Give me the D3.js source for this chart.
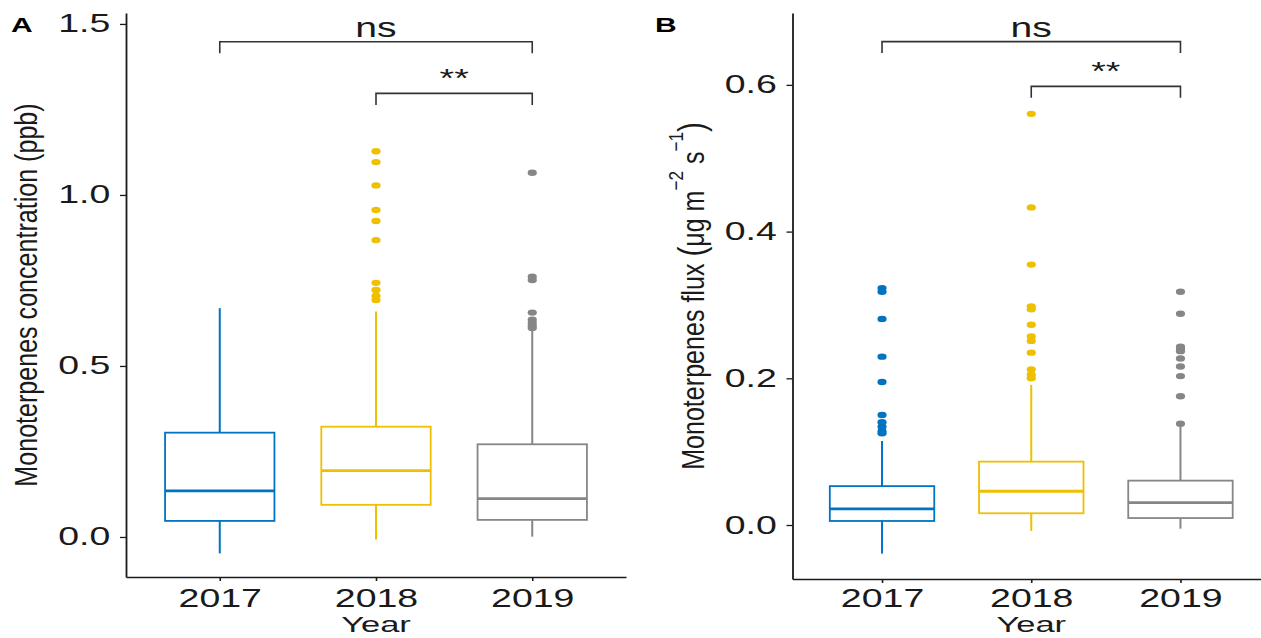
<!DOCTYPE html>
<html>
<head>
<meta charset="utf-8">
<title>Monoterpenes by year</title>
<script src="https://d3js.org/d3.v7.min.js"></script>
<style>
html, body {
  margin: 0;
  padding: 0;
  background: #ffffff;
}
svg {
  display: block;
  font-family: "Liberation Sans", Arial, sans-serif;
}
.axis path, .axis line {
  stroke: #1a1a1a;
}
.axis text {
  fill: #1a1a1a;
}
</style>
</head>
<body>
<svg id="chart" width="1261" height="638"></svg>
<script>
// categories
var years = ["2017", "2018", "2019"];
var colors = ["#0073C2", "#EFC000", "#868686"];

// panel A: monoterpenes concentration (ppb)
var concLow = [-0.048, -0.007, 0.001];
var concQ1 = [0.047, 0.094, 0.050];
var concMedian = [0.135, 0.194, 0.112];
var concQ3 = [0.305, 0.3225, 0.271];
var concHigh = [0.669, 0.659, 0.605];
var concOutliers = [
  [],
  [1.128, 1.096, 1.028, 0.956, 0.924, 0.868, 0.743, 0.722, 0.705, 0.693],
  [1.065, 0.761, 0.751, 0.656, 0.635, 0.626, 0.617, 0.611]
];
var concTicks = [0, 0.5, 1.0, 1.5];
var concBracketY = [1.448, 1.297];

// panel B: monoterpenes flux (ug m-2 s-1)
var fluxLow = [-0.039, -0.008, -0.005];
var fluxQ1 = [0.0055, 0.016, 0.0095];
var fluxMedian = [0.022, 0.046, 0.0305];
var fluxQ3 = [0.053, 0.0864, 0.0605];
var fluxHigh = [0.1145, 0.191, 0.136];
var fluxOutliers = [
  [0.323, 0.318, 0.281, 0.2295, 0.195, 0.150, 0.140, 0.134, 0.128, 0.125],
  [0.5605, 0.433, 0.355, 0.298, 0.294, 0.273, 0.257, 0.251, 0.235, 0.212, 0.205, 0.200],
  [0.318, 0.288, 0.243, 0.240, 0.237, 0.227, 0.216, 0.203, 0.1755, 0.138]
];
var fluxTicks = [0, 0.2, 0.4, 0.6];
var fluxBracketY = [0.659, 0.598];

// significance comparisons (same in both panels)
var bracketPairs = [["2017", "2019"], ["2018", "2019"]];
var bracketLabels = ["ns", "**"];

// the figure is stretched sideways, so every text gets widened
var SX = 1.5;

var svg = d3.select("#chart");

function drawPanel(cfg) {
  var g = svg.append("g");

  var x = d3.scalePoint()
            .domain(years)
            .range([cfg.left, cfg.right])
            .padding(0.6);
  var y = d3.scaleLinear()
            .domain(cfg.yDomain)
            .range([cfg.bottom, cfg.top]);
  var bw = x.step() * 0.7;

  // axes
  var yAxis = g.append("g")
    .attr("class", "axis")
    .attr("transform", "translate(" + cfg.left + ",0)")
    .call(d3.axisLeft(y).tickValues(cfg.ticks).tickFormat(d3.format(".1f"))
            .tickSize(6).tickSizeOuter(0).tickPadding(4.5));
  yAxis.select(".domain").attr("stroke-width", 1.8);
  yAxis.selectAll(".tick line").attr("stroke-width", 1.3);
  yAxis.selectAll(".tick text")
    .attr("font-size", 25)
    .attr("font-family", "Liberation Sans, Arial, sans-serif")
    .attr("transform", "scale(" + SX + ",1)");

  // keep the year labels on the same baseline in both panels
  var xAxis = g.append("g")
    .attr("class", "axis")
    .attr("transform", "translate(0," + cfg.bottom + ")")
    .call(d3.axisBottom(x).tickSize(4).tickSizeOuter(0).tickPadding(8 - (cfg.bottom - 577)));
  xAxis.select(".domain").attr("stroke-width", 1.3);
  xAxis.selectAll(".tick line").attr("stroke-width", 1.6);
  xAxis.selectAll(".tick text")
    .attr("font-size", 25)
    .attr("font-family", "Liberation Sans, Arial, sans-serif")
    .attr("transform", "scale(" + SX + ",1)");

  // boxplots
  var boxes = g.selectAll(".box")
    .data(years)
    .enter().append("g")
      .attr("class", "box");

  boxes.append("line")
    .attr("x1", function(d) { return x(d); })
    .attr("x2", function(d) { return x(d); })
    .attr("y1", function(d, i) { return y(cfg.q3[i]); })
    .attr("y2", function(d, i) { return y(cfg.high[i]); })
    .attr("stroke", function(d, i) { return colors[i]; })
    .attr("stroke-width", 2);

  boxes.append("line")
    .attr("x1", function(d) { return x(d); })
    .attr("x2", function(d) { return x(d); })
    .attr("y1", function(d, i) { return y(cfg.q1[i]); })
    .attr("y2", function(d, i) { return y(cfg.low[i]); })
    .attr("stroke", function(d, i) { return colors[i]; })
    .attr("stroke-width", 2);

  boxes.append("rect")
    .attr("x", function(d) { return x(d) - bw / 2; })
    .attr("width", bw)
    .attr("y", function(d, i) { return y(cfg.q3[i]); })
    .attr("height", function(d, i) { return y(cfg.q1[i]) - y(cfg.q3[i]); })
    .attr("fill", "#ffffff")
    .attr("stroke", function(d, i) { return colors[i]; })
    .attr("stroke-width", 1.8);

  boxes.append("line")
    .attr("x1", function(d) { return x(d) - bw / 2; })
    .attr("x2", function(d) { return x(d) + bw / 2; })
    .attr("y1", function(d, i) { return y(cfg.median[i]); })
    .attr("y2", function(d, i) { return y(cfg.median[i]); })
    .attr("stroke", function(d, i) { return colors[i]; })
    .attr("stroke-width", 2.8);

  // outliers
  var pts = [];
  years.forEach(function(yr, i) {
    cfg.outliers[i].forEach(function(v) { pts.push({ i: i, year: yr, v: v }); });
  });
  g.selectAll(".outlier")
    .data(pts)
    .enter().append("ellipse")
      .attr("class", "outlier")
      .attr("cx", function(d) { return x(d.year); })
      .attr("cy", function(d) { return y(d.v); })
      .attr("rx", 4.6)
      .attr("ry", 3.2)
      .attr("fill", function(d) { return colors[d.i]; });

  // significance brackets
  var drop = 11.5;
  bracketPairs.forEach(function(p, k) {
    var x1 = x(p[0]), x2 = x(p[1]), yb = y(cfg.brackets[k]);
    g.append("path")
      .attr("d", "M" + x1 + "," + (yb + drop) + "V" + yb + "H" + x2 + "V" + (yb + drop))
      .attr("fill", "none")
      .attr("stroke", "#333333")
      .attr("stroke-width", 1.6);
    var isNs = bracketLabels[k] == "ns";
    g.append("text")
      .attr("transform", "translate(" + ((x1 + x2) / 2) + "," + (yb - (isNs ? 5 : 6)) + ") scale(" + (isNs ? 1.45 : SX) + ",1)")
      .attr("text-anchor", "middle")
      .attr("font-size", isNs ? 27 : 25)
      .attr("fill", "#1a1a1a")
      .text(bracketLabels[k]);
  });

  // x title
  g.append("text")
    .attr("transform", "translate(" + ((cfg.left + cfg.right) / 2) + ",632) scale(" + SX + ",1)")
    .attr("text-anchor", "middle")
    .attr("font-size", 23)
    .attr("fill", "#1a1a1a")
    .text("Year");

  // panel tag
  g.append("text")
    .attr("transform", "translate(" + cfg.tagX + ",32) scale(" + SX + ",1)")
    .attr("font-size", 20)
    .attr("font-weight", "bold")
    .attr("fill", "#000000")
    .text(cfg.tag);

  // y title
  var yt = g.append("text")
    .attr("transform", "translate(" + cfg.titleX + "," + ((cfg.top + cfg.bottom) / 2) + ") scale(1.4,1.14) rotate(-90)")
    .attr("text-anchor", "middle")
    .attr("font-size", 22)
    .attr("fill", "#1a1a1a");
  cfg.title(yt);
}

drawPanel({
  left: 126, right: 626, top: 13, bottom: 577,
  yDomain: [-0.117, 1.532],
  ticks: concTicks,
  low: concLow, q1: concQ1, median: concMedian, q3: concQ3, high: concHigh,
  outliers: concOutliers,
  brackets: concBracketY,
  tag: "A", tagX: 11,
  titleX: 37,
  title: function(t) { t.text("Monoterpenes concentration (ppb)"); }
});

drawPanel({
  left: 792.5, right: 1270, top: 13, bottom: 579,
  yDomain: [-0.0736, 0.698],
  ticks: fluxTicks,
  low: fluxLow, q1: fluxQ1, median: fluxMedian, q3: fluxQ3, high: fluxHigh,
  outliers: fluxOutliers,
  brackets: fluxBracketY,
  tag: "B", tagX: 655,
  titleX: 704,
  title: function(t) {
    t.append("tspan").text("Monoterpenes flux ");
    t.append("tspan").attr("font-size", 26).text("(");
    t.append("tspan").text("\u03bcg m");
    t.append("tspan").attr("font-size", 15).attr("dy", -15).text("\u22122");
    t.append("tspan").attr("dy", 15).text(" s");
    t.append("tspan").attr("font-size", 15).attr("dy", -15).text("\u22121");
    t.append("tspan").attr("font-size", 26).attr("dy", 15).text(")");
  }
});
</script>
</body>
</html>
